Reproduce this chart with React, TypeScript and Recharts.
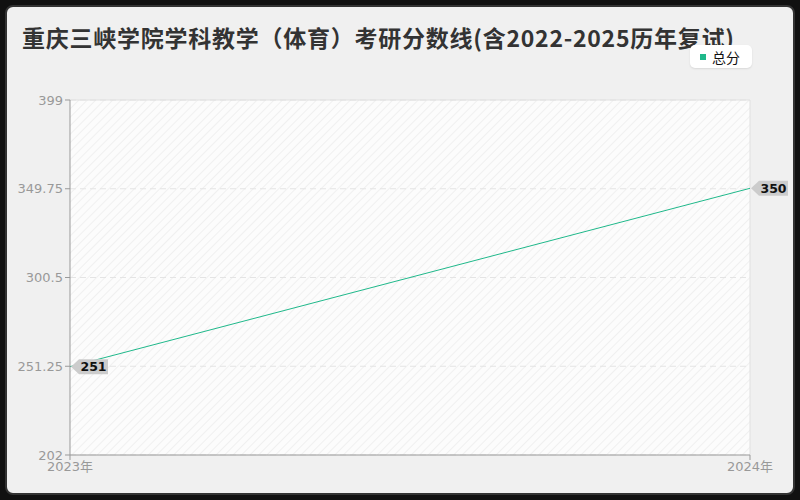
import { LineChart, Line, XAxis, YAxis, CartesianGrid, LabelList, ReferenceLine } from 'recharts';

const years = [2023, 2024];
const totalScores = [251, 350];
const yTicks = [202, 251.25, 300.5, 349.75, 399];

const data = years.map((year, i) => ({ year, total: totalScores[i] }));

const FONT = '"Noto Sans CJK SC", "Noto Sans", sans-serif';
const TICK_FONT = '"DejaVu Sans", "Noto Sans CJK SC", sans-serif';
const LINE_COLOR = '#1fb88a';

const Callout = (props: any) => {
  const { x, y, value } = props;
  const w = 29;
  const h = 15;
  const bx = x + 9;
  const pts = `${x + 1},${y} ${bx},${y - h / 2} ${bx + w},${y - h / 2} ${bx + w},${y + h / 2} ${bx},${y + h / 2}`;
  return (
    <g>
      <polygon points={pts} fill="#cccccc" />
      <text x={bx + w / 2} y={y + 4.5} textAnchor="middle" fontSize={12.5} fontWeight="bold" fill="#111" fontFamily={TICK_FONT}>
        {value}
      </text>
    </g>
  );
};

const App = () => {
  return (
    <div style={{ position: 'fixed', left: 0, top: 0, width: 800, height: 500, background: '#111' }}>
      <div
        style={{
          position: 'absolute',
          left: 5,
          top: 5,
          width: 786,
          height: 486,
          background: '#f0f0f0',
          border: '2px solid #333',
          borderRadius: 8,
        }}
      />
      <div
        style={{
          position: 'absolute',
          left: 22,
          top: 20,
          fontFamily: FONT,
          fontWeight: 'bold',
          fontSize: 23,
          letterSpacing: 0.75,
          color: '#333',
          whiteSpace: 'nowrap',
        }}
      >
        重庆三峡学院学科教学（体育）考研分数线(含2022-2025历年复试)
      </div>
      <div
        style={{
          position: 'absolute',
          left: 690,
          top: 45,
          background: '#fff',
          borderRadius: 5,
          boxShadow: '0 1px 2px rgba(0,0,0,0.1)',
          width: 62,
          height: 23,
          display: 'flex',
          alignItems: 'center',
          fontFamily: FONT,
          fontSize: 14,
          color: '#111',
        }}
      >
        <span style={{ width: 6, height: 6, background: LINE_COLOR, marginLeft: 10, marginRight: 6 }} />
        总分
      </div>
      <div style={{ position: 'absolute', left: 0, top: 0 }}>
        <LineChart width={800} height={500} data={data} margin={{ top: 100, right: 50, bottom: 0, left: 0 }}>
          <defs>
            <pattern id="hatch" width="6" height="6" patternUnits="userSpaceOnUse" patternTransform="rotate(45)">
              <rect width="6" height="6" fill="#fcfcfc" />
              <line x1="0" y1="0" x2="0" y2="6" stroke="#f0f0f0" strokeWidth="2" />
            </pattern>
          </defs>
          <CartesianGrid vertical={false} fill="url(#hatch)" stroke="#e4e4e4" strokeDasharray="6 4" />
          <ReferenceLine x={2024} stroke="#e0e0e0" />
          <ReferenceLine y={399} stroke="#e0e0e0" />
          <XAxis
            dataKey="year"
            type="number"
            domain={[2023, 2024]}
            ticks={years}
            tickFormatter={(v: number) => `${v}年`}
            height={45}
            stroke="#999"
            tickSize={5}
            tick={{ fill: '#999', fontSize: 13, fontFamily: TICK_FONT }}
          />
          <YAxis
            type="number"
            domain={[202, 399]}
            ticks={yTicks}
            width={70}
            stroke="#999"
            tickSize={5}
            interval={0}
            tick={{ fill: '#999', fontSize: 13, fontFamily: TICK_FONT }}
          />
          <Line
            type="linear"
            dataKey="total"
            stroke={LINE_COLOR}
            strokeWidth={1}
            dot={false}
            isAnimationActive={false}
          >
            <LabelList dataKey="total" content={Callout} />
          </Line>
        </LineChart>
      </div>
    </div>
  );
};

export default App;
